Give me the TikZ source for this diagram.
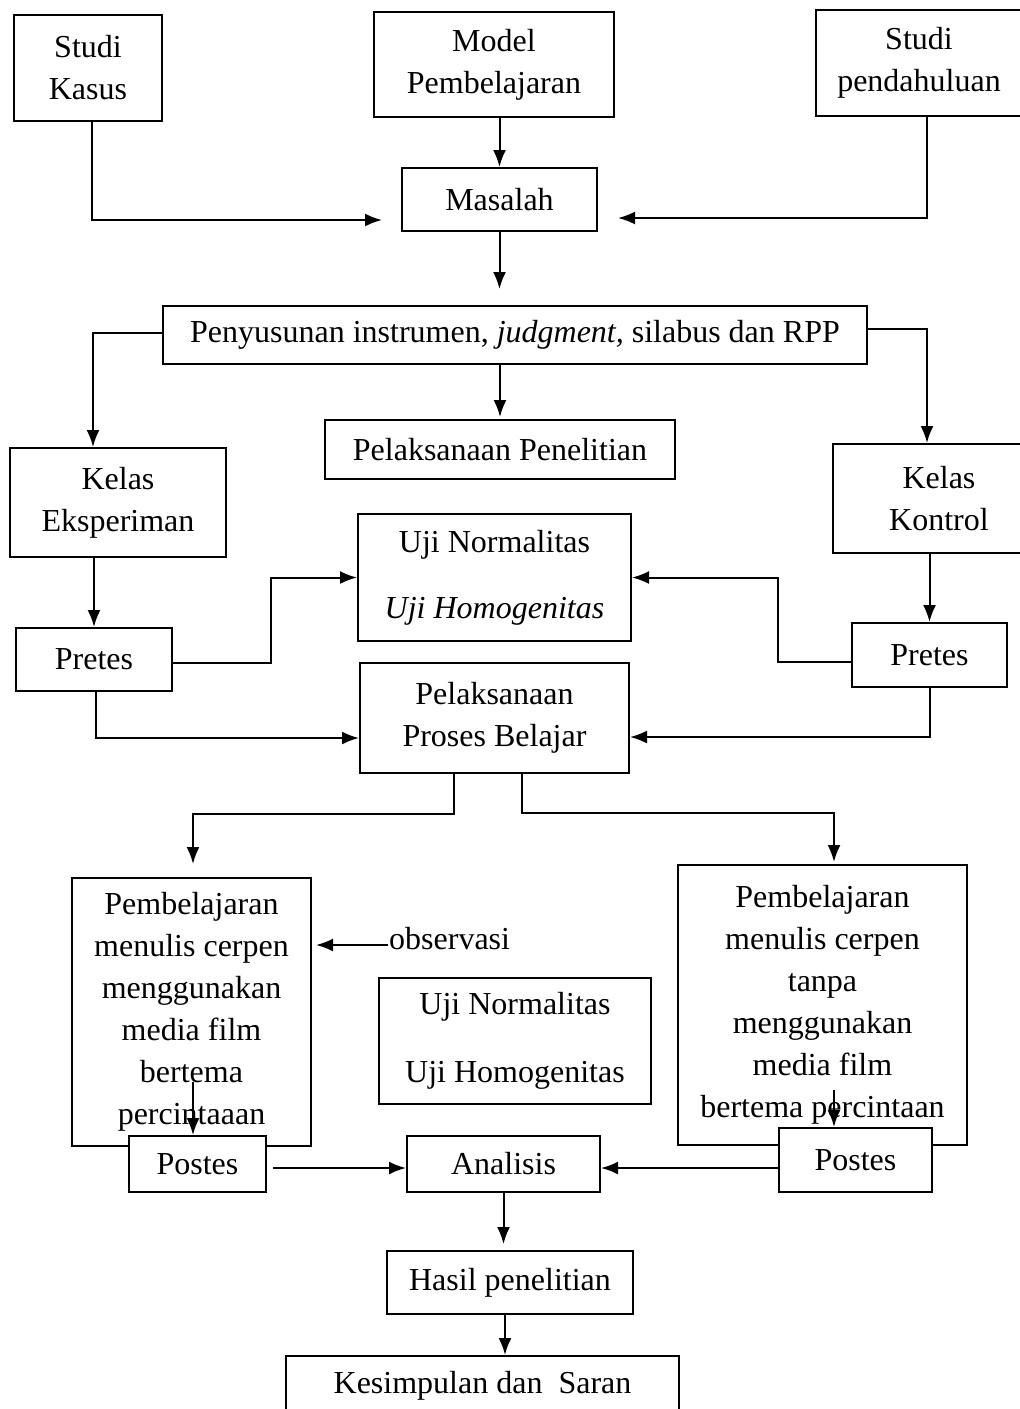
\documentclass[tikz,border=0pt]{standalone}
\usepackage{fontspec}
\setmainfont{Liberation Serif}
\usetikzlibrary{arrows.meta}

\begin{document}
\begin{tikzpicture}[x=1pt, y=-1pt,
  box/.style={draw, line width=2pt, fill=white, align=center, inner sep=0pt},
  arr/.style={-{Latex[length=17pt,width=13pt]}, line width=2pt},
  every node/.style={font=\fontsize{32}{42}\selectfont}]
  \useasboundingbox (0,0) rectangle (1020,1409);
  % Sources
  \node[box,minimum width=148pt,minimum height=106pt] (kasus) at (88,68) {Studi\\Kasus};
  \node[box,minimum width=240pt,minimum height=105pt] (model) at (494,64.5) {Model\\Pembelajaran};
  \node[box,minimum width=206pt,minimum height=106pt] (studi) at (919,63) {Studi\\pendahuluan};
  \node[box,minimum width=195pt,minimum height=63pt] (masalah) at (499.5,199.5) {Masalah};
  % Preparation
  \node[box,minimum width=704pt,minimum height=58pt] (susun) at (515,335) {Penyusunan instrumen, \textit{judgment,} silabus dan RPP};
  \node[box,minimum width=350pt,minimum height=59pt] (teliti) at (500,449.5) {Pelaksanaan Penelitian};
  \node[box,minimum width=216pt,minimum height=109pt] (eksp) at (118,502.5) {Kelas\\Eksperiman};
  \node[box,minimum width=212pt,minimum height=109pt] (kontrol) at (939,498.5) {Kelas\\Kontrol};
  \node[box,minimum width=273pt,minimum height=127pt] (uji1) at (494.5,577.5) {Uji Normalitas\\[24pt]\textit{Uji Homogenitas}};
  \node[box,minimum width=156pt,minimum height=63pt] (pre1) at (94,659.5) {Pretes};
  \node[box,minimum width=155pt,minimum height=64pt] (pre2) at (929.5,655) {Pretes};
  \node[box,minimum width=269pt,minimum height=110pt] (proses) at (494.5,718) {Pelaksanaan\\Proses Belajar};
  % Treatment
  \node[box,minimum width=239pt,minimum height=268pt] (bel1) at (191.5,1012) {Pembelajaran\\menulis cerpen\\menggunakan\\media film\\bertema\\percintaaan};
  \node[box,minimum width=289pt,minimum height=280pt] (bel2) at (822.5,1005) {Pembelajaran\\menulis cerpen\\tanpa\\menggunakan\\media film\\bertema percintaan};
  \node[inner sep=0pt,anchor=west] (obs) at (389,939) {observasi};
  \node[box,minimum width=272pt,minimum height=126pt] (uji2) at (515,1041) {Uji Normalitas\\[26pt]Uji Homogenitas};
  \node[box,minimum width=137pt,minimum height=56pt] (pos1) at (197.5,1164) {Postes};
  \node[box,minimum width=153pt,minimum height=64pt] (pos2) at (855.5,1160) {Postes};
  % Results
  \node[box,minimum width=193pt,minimum height=56pt] (ana) at (503.5,1164) {Analisis};
  \node[box,minimum width=246pt,minimum height=63pt] (hasil) at (510,1282.5) {Hasil penelitian};
  \node[box,minimum width=393pt,minimum height=60pt] (simpul) at (482.5,1386) {Kesimpulan dan\ \ Saran};
  \coordinate (c1) at (193,1082);
  \coordinate (c2) at (834,1090);
  % Flows
  \draw[arr,shorten >=19pt] ([xshift=4pt]kasus.south) |- ([yshift=-20.5pt]masalah.west);
  \draw[arr,shorten >=20pt] ([xshift=8pt]studi.south) |- ([yshift=-18.5pt]masalah.east);
  \draw[arr] (masalah.north |- model.south) -- (masalah.north);
  \draw[arr,shorten >=16pt] (masalah.south) -- (masalah.south |- susun.north);
  \draw[arr] ([yshift=2pt]susun.west) -| ([xshift=-25pt]eksp.north);
  \draw[arr,shorten >=2pt] (susun.south -| teliti.north) -- (teliti.north);
  \draw[arr] ([yshift=6pt]susun.east) -| ([xshift=-12pt]kontrol.north);
  \draw[arr] (eksp.south -| pre1.north) -- (pre1.north);
  \draw[arr] (kontrol.south -| pre2.north) -- (pre2.north);
  \draw[arr] ([yshift=-3.5pt]pre1.east) -| ([xshift=-86pt]uji1.west) -- (uji1.west);
  \draw[arr] ([yshift=-7pt]pre2.west) -| ([xshift=146pt]uji1.east) -- (uji1.east);
  \draw[arr] ([xshift=2pt]pre1.south) |- ([yshift=-20pt]proses.west);
  \draw[arr] (pre2.south) |- ([yshift=-19pt]proses.east);
  \draw[arr,shorten >=13pt] ([xshift=-40.5pt]proses.south) -- ++(0,40) -| ([xshift=1.5pt]bel1.north);
  \draw[arr,shorten >=2pt] ([xshift=27.5pt]proses.south) -- ++(0,39) -| ([xshift=11.5pt]bel2.north);
  \draw[arr,shorten <=1pt,shorten >=4pt] ([yshift=-6pt]obs.west) -- ([yshift=-6pt]obs.west -| bel1.east);
  \draw[arr] (c1) -- (c1 |- pos1.north);
  \draw[arr] (c2) -- (c2 |- pos2.north);
  \draw[arr,shorten <=6pt] ([yshift=-4pt]pos1.east) -- ([yshift=-4pt]ana.west);
  \draw[arr] ([yshift=-8pt]pos2.west) -- ([yshift=-4pt]ana.east);
  \draw[arr,shorten >=6pt] (ana.south) -- (ana.south |- hasil.north);
  \draw[arr] ([xshift=-5pt]hasil.south) -- ([xshift=-5pt]hasil.south |- simpul.north);
\end{tikzpicture}
\end{document}
